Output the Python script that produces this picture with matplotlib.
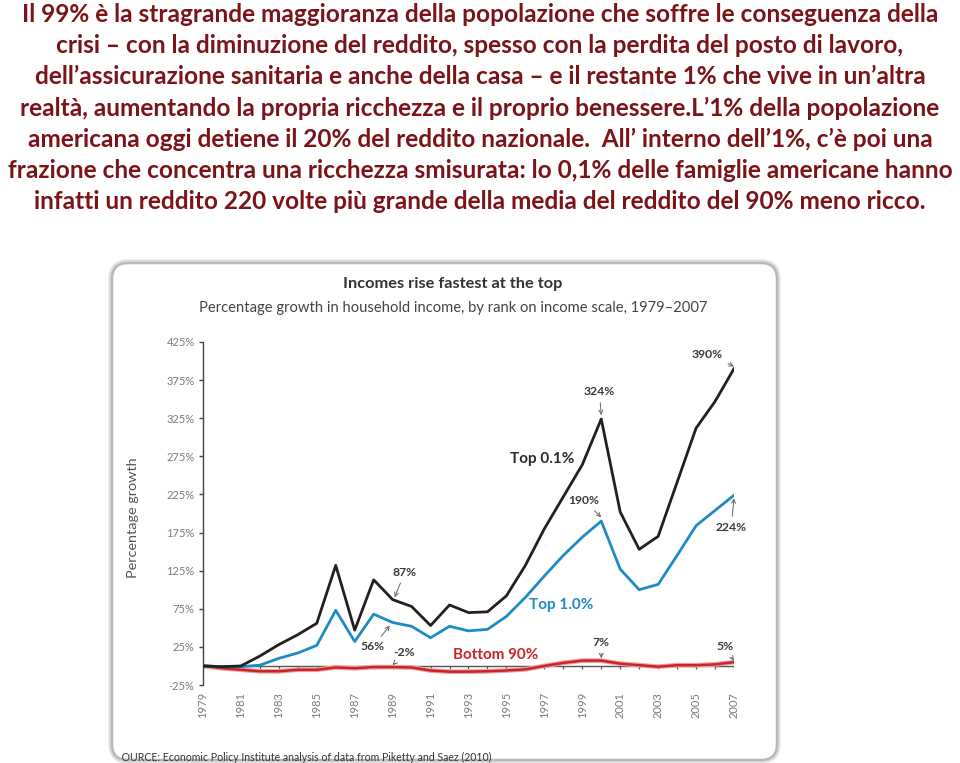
import numpy as np
import matplotlib
matplotlib.use("Agg")
from matplotlib import pyplot as plt
from matplotlib.patches import FancyBboxPatch, Rectangle

# testo introduttivo
intro = [
    "Il 99% è la stragrande maggioranza della popolazione che soffre le conseguenza della",
    "crisi – con la diminuzione del reddito, spesso con la perdita del posto di lavoro,",
    "dell’assicurazione sanitaria e anche della casa – e il restante 1% che vive in un’altra",
    "realtà, aumentando la propria ricchezza e il proprio benessere.L’1% della popolazione",
    "americana oggi detiene il 20% del reddito nazionale.  All’ interno dell’1%, c’è poi una",
    "frazione che concentra una ricchezza smisurata: lo 0,1% delle famiglie americane hanno",
    "infatti un reddito 220 volte più grande della media del reddito del 90% meno ricco.",
]

years = np.arange(1979, 2008)
top01 = [0, -1, 0, 13, 28, 41, 56, 132, 47, 113, 87, 78, 53, 80, 70, 71,
         92, 132, 180, 222, 264, 324, 202, 153, 170, 241, 312, 347, 390]
top1 = [0, -1, -1, 1, 10, 17, 27, 73, 32, 68, 57, 52, 37, 52, 46, 48,
        65, 90, 118, 145, 169, 190, 127, 100, 107, 145, 184, 204, 224]
bottom90 = [0, -3, -5, -7, -7, -5, -5, -2, -3, -1.5, -1.5, -2, -6, -7.5, -7.5, -7,
            -6, -4.5, 0, 4, 7, 7, 3, 1, -1, 1, 1, 2, 5]
yticks = [-25, 25, 75, 125, 175, 225, 275, 325, 375, 425]

# (testo, punto, posizione testo)
notes = [
    ("324%", (2000, 329), (1999.9, 360)),
    ("390%", (2007, 393), (2005.6, 409)),
    ("190%", (2000, 195), (1999.1, 217)),
    ("224%", (2007, 220), (2006.85, 182)),
    ("87%", (1989.1, 90), (1989.65, 123)),
    ("56%", (1988.85, 53), (1987.95, 25)),
    ("-2%", (1989.0, 1), (1989.6, 17)),
    ("7%", (2000, 10), (2000.0, 31)),
    ("5%", (2007, 7), (2006.5, 25)),
]

dark_red = "#7a1418"
black = "#231f20"
blue = "#1f8ac4"
red = "#cc2229"
gray = "#7a7a7a"

fig = plt.figure(figsize=(9.6, 7.63), dpi=100)

bg = fig.add_axes([0, 0, 1, 1], zorder=0)
bg.set_xlim(0, 960)
bg.set_ylim(763, 0)
bg.axis("off")

for i, line in enumerate(intro):
    bg.text(480, 14 + i * 31.3, line, ha="center", va="center",
            fontsize=17.6, fontweight="bold", color=dark_red, family="Lato")

# riquadro del grafico
shadow = FancyBboxPatch((112, 263), 665, 497, boxstyle="round,pad=0,rounding_size=16",
                        fc="none", ec="#dedede", lw=5)
panel = FancyBboxPatch((112, 263), 665, 497, boxstyle="round,pad=0,rounding_size=16",
                       fc="white", ec="#b8b8b8", lw=1.8)
bg.add_patch(shadow)
bg.add_patch(panel)

bg.text(453, 284, "Incomes rise fastest at the top", ha="center", va="center",
        fontsize=11.8, fontweight="bold", color="#333333", family="Lato")
bg.text(453, 308, "Percentage growth in household income, by rank on income scale, 1979–2007",
        ha="center", va="center", fontsize=10.6, color="#444444", family="Lato")
bg.text(133, 518, "Percentage growth", rotation=90, ha="center", va="center",
        fontsize=10.4, color="#555555", family="Lato")
# la "S" iniziale è tagliata dal bordo, come nell'originale
src = bg.text(116, 757, "SOURCE: Economic Policy Institute analysis of data from Piketty and Saez (2010)",
              ha="left", va="center", fontsize=7.6, color="#333333", family="Lato")
cut = Rectangle((121, 700), 600, 70, transform=bg.transData)
src.set_clip_on(True)
src.set_clip_path(cut)

ax = fig.add_axes([203 / 960, 1 - 685 / 763, 531 / 960, 343 / 763], zorder=1)
ax.set_facecolor("none")
ax.set_xlim(1979, 2007)
ax.set_ylim(-25, 425)

ax.axhline(0, color="#555555", lw=1, zorder=1)
ax.vlines(years, -4, 0, color="#555555", lw=0.9, zorder=1)

ax.plot(years, bottom90, color="#eaa3a3", lw=3.4, zorder=2, solid_joinstyle="round")
ax.plot(years, bottom90, color=red, lw=1.8, zorder=3, solid_joinstyle="round")
ax.plot(years, top1, color=blue, lw=2.0, zorder=3)
ax.plot(years, top01, color=black, lw=2.0, zorder=3)

for s in ["top", "right", "bottom"]:
    ax.spines[s].set_visible(False)
ax.spines["left"].set_color("#444444")
ax.spines["left"].set_linewidth(1)

ax.set_yticks(yticks)
ax.set_yticklabels([f"{v}%" for v in yticks])
ax.tick_params(axis="y", length=3, width=1, color="#444444", labelsize=8,
               labelcolor=gray, pad=3)
ax.set_xticks(years[::2])
ax.set_xticklabels([str(y) for y in years[::2]], rotation=90, va="top")
ax.tick_params(axis="x", length=0, labelsize=8, labelcolor=gray, pad=5)
for lab in ax.get_xticklabels() + ax.get_yticklabels():
    lab.set_family("Lato")

for txt, xy, xyt in notes:
    ax.annotate(txt, xy=xy, xytext=xyt, ha="center", va="center",
                fontsize=8.7, fontweight="bold", color="#3a3a3a", family="Lato",
                arrowprops=dict(arrowstyle="->", color="#666666", lw=0.7,
                                shrinkA=2, shrinkB=0, mutation_scale=7))

ax.text(1996.9, 272, "Top 0.1%", ha="center", va="center", fontsize=11,
        fontweight="bold", color="#2a2a2a", family="Lato")
ax.text(1997.9, 80, "Top 1.0%", ha="center", va="center", fontsize=11,
        fontweight="bold", color=blue, family="Lato")
ax.text(1994.45, 15, "Bottom 90%", ha="center", va="center", fontsize=11,
        fontweight="bold", color=red, family="Lato")

fig.savefig("out.png", dpi=100)
